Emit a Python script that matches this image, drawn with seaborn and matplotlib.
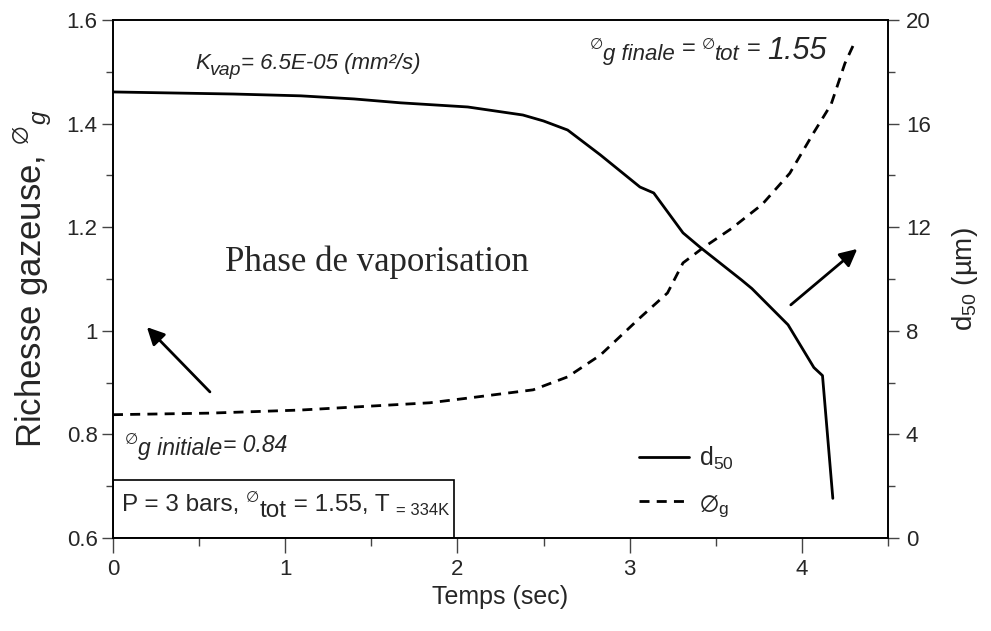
import numpy as np
import pandas as pd
import matplotlib.pyplot as plt
import seaborn as sns
from matplotlib.patches import Rectangle
from matplotlib.ticker import MultipleLocator

# d50 (µm) en fonction du temps, axe de droite
t_d50 = [0.0, 0.35, 0.70, 1.09, 1.40, 1.67, 2.06, 2.38, 2.50, 2.64, 2.83, 3.06, 3.14,
         3.31, 3.41, 3.65, 3.71, 3.92, 4.07, 4.12, 4.18]
d50 = [17.22, 17.18, 17.14, 17.07, 16.95, 16.80, 16.64, 16.33, 16.10, 15.75, 14.79, 13.55, 13.32,
       11.78, 11.22, 9.96, 9.63, 8.23, 6.58, 6.27, 1.53]

# richesse gazeuse phi_g, axe de gauche
t_phi = [0.0, 0.56, 1.09, 1.84, 2.06, 2.44, 2.64, 2.83, 3.06, 3.22, 3.31, 3.43, 3.59,
         3.77, 3.93, 4.07, 4.17, 4.25, 4.30]
phi_g = [0.838, 0.841, 0.847, 0.861, 0.870, 0.886, 0.911, 0.953, 1.025, 1.073, 1.131, 1.161, 1.197,
         1.244, 1.304, 1.383, 1.437, 1.516, 1.552]

df_d = pd.DataFrame({'t': t_d50, 'd50': d50})
df_p = pd.DataFrame({'t': t_phi, 'phi': phi_g})

sns.set_style('ticks')
plt.rcParams['font.family'] = ['Liberation Sans', 'DejaVu Sans']
plt.rcParams['mathtext.fontset'] = 'custom'
plt.rcParams['mathtext.rm'] = 'Liberation Sans'
plt.rcParams['mathtext.it'] = 'Liberation Sans:italic'
plt.rcParams['mathtext.fallback'] = 'stixsans'


def chain(ax, x, y, pieces, coords='data', **kw):
    # morceaux de texte à la suite : (texte, taille, décalage vertical en points)
    prev = None
    for txt, size, dy in pieces:
        if prev is None:
            xy, xyc = (x, y), coords
        else:
            xy, xyc = (1, y), (prev, coords)
        prev = ax.annotate(txt, xy=xy, xycoords=xyc, xytext=(0, dy), textcoords='offset points',
                           fontsize=size, va='baseline', ha='left', **kw)
    return prev


fig = plt.figure(figsize=(9.91, 6.31), dpi=100)
ax = fig.add_axes([0.114, 0.1474, 0.782, 0.821])
ax2 = ax.twinx()

sns.lineplot(data=df_p, x='t', y='phi', ax=ax, color='black', lw=2.0, sort=False)
ax.lines[-1].set_dashes((3.6, 2.6))
sns.lineplot(data=df_d, x='t', y='d50', ax=ax2, color='black', lw=2.0, sort=False)

ax.set_xlim(0, 4.5)
ax.set_ylim(0.6, 1.6)
ax2.set_ylim(0, 20)
ax.xaxis.set_major_locator(MultipleLocator(1))
ax.xaxis.set_minor_locator(MultipleLocator(0.5))
ax.yaxis.set_major_locator(MultipleLocator(0.2))
ax.yaxis.set_minor_locator(MultipleLocator(0.1))
ax2.yaxis.set_major_locator(MultipleLocator(4))
ax2.yaxis.set_minor_locator(MultipleLocator(2))
ax.set_yticks([0.6, 0.8, 1.0, 1.2, 1.4, 1.6], ['0.6', '0.8', '1', '1.2', '1.4', '1.6'])

ax.tick_params(axis='x', which='major', length=11, width=1, color='#444', labelsize=16, pad=4)
ax.tick_params(axis='x', which='minor', length=6, width=1, color='#444')
ax.tick_params(axis='y', which='major', length=8, width=1, color='#444', labelsize=16, pad=3)
ax.tick_params(axis='y', which='minor', length=5, width=1, color='#444')
ax2.tick_params(axis='y', which='major', length=8, width=1, color='#444', labelsize=16, pad=5)
ax2.tick_params(axis='y', which='minor', length=5, width=1, color='#444')
for a in (ax, ax2):
    for s in a.spines.values():
        s.set_visible(True)
        s.set_linewidth(1.2)
        s.set_color('black')

ax.set_xlabel('Temps (sec)', fontsize=18, labelpad=4)
ax.set_ylabel(r'Richesse gazeuse, $^{\emptyset}$$_{g}$', fontsize=25, labelpad=9)
ax2.set_ylabel('d$_{50}$ (µm)', fontsize=20, labelpad=14)

# annotations
chain(ax, 0.476, 1.505, [('K', 16, 0), ('vap', 14, -4), ('= 6.5E-05 (mm²/s)', 16, 0)], style='italic')
chain(ax, 2.77, 1.525, [('∅', 11, 7), ('g finale', 16, -1), (' = ', 17, 3), ('∅', 11, 7),
                        ('tot', 16, -1), (' = ', 17, 3), ('1.55', 22, 0)], style='italic')
ax.text(1.53, 1.133, 'Phase de vaporisation', fontsize=25, family='Liberation Serif',
        ha='center', va='center')
chain(ax, 0.07, 0.76, [('∅', 11, 8), ('g initiale', 16.5, 0), ('= 0.84', 16.5, 2)], style='italic')

ax.add_patch(Rectangle((0, 0), 0.44, 0.112, transform=ax.transAxes, fill=False,
                       edgecolor='black', lw=1.2, zorder=5))
chain(ax, 0.012, 0.053, [('P = 3 bars, ', 17.5, 0), ('∅', 11, 6), ('tot', 17.5, -5),
                         (' = 1.55, T ', 17.5, 0), ('= 334K', 12, -3)], coords='axes fraction')

arrow = dict(arrowstyle='-|>', color='black', lw=2.0, mutation_scale=26, shrinkA=0, shrinkB=0)
ax.annotate('', xy=(0.197, 1.007), xytext=(0.563, 0.882), arrowprops=arrow)
ax.annotate('', xy=(4.322, 1.158), xytext=(3.936, 1.050), arrowprops=arrow)

# légende
h = [ax2.lines[0], ax.lines[0]]
ax2.legend(h, ['d$_{50}$', r'$\emptyset_{\rm g}$'], loc='center left', bbox_to_anchor=(0.65, 0.108),
           frameon=False, fontsize=18, handlelength=2.0, handletextpad=0.4, labelspacing=0.75)

fig.savefig('out.png', dpi=100)
